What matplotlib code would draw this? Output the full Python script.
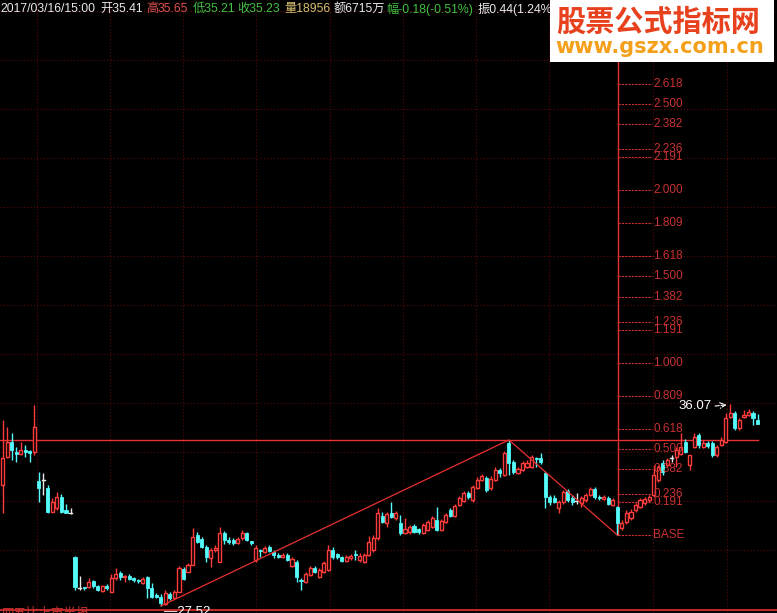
import matplotlib
matplotlib.use("Agg")
import matplotlib.pyplot as plt
from matplotlib.patches import Rectangle

# daily OHLC, oldest first
opens = [
    32.64, 33.83, 34.46, 34.04, 33.95, 34.12, 34.08, 34.04, 32.81, 32.85,
    32.52, 31.50, 31.67, 32.13, 31.58, 31.46, 29.59, 28.28, 28.33, 28.33,
    28.58, 28.37, 28.16, 28.37, 28.11, 28.71, 28.92, 28.75, 28.79, 28.71,
    28.62, 28.50, 28.75, 28.28, 27.99, 27.90, 27.61, 28.03, 27.86, 28.11,
    29.09, 28.96, 29.26, 30.53, 30.36, 30.02, 29.55, 29.89, 29.38, 30.61,
    30.31, 30.31, 30.19, 30.40, 30.61, 30.27, 29.47, 29.89, 29.81, 30.02,
    29.81, 29.68, 29.59, 29.68, 29.21, 29.38, 28.62, 28.54, 28.83, 29.13,
    28.75, 28.96, 29.04, 29.89, 29.72, 29.59, 29.43, 29.55, 29.72, 29.47,
    29.38, 29.68, 29.89, 30.40, 31.33, 31.03, 31.46, 31.25, 31.03, 30.61,
    30.65, 30.91, 30.78, 30.61, 30.74, 30.87, 31.16, 30.74, 31.08, 31.58,
    31.33, 31.80, 31.97, 32.30, 32.01, 32.52, 32.85, 32.94, 32.52, 32.85,
    33.28, 33.07, 34.42, 33.62, 33.15, 33.28, 33.40, 33.40, 33.78, 33.78,
    33.15, 32.13, 32.09, 31.67, 31.92, 32.39, 32.09, 31.97, 31.88, 32.01,
    32.22, 32.47, 32.13, 32.05, 32.09, 31.80, 31.71, 30.82, 31.08, 31.25,
    31.58, 31.71, 31.88, 32.01, 32.22, 32.85, 33.57, 33.49, 33.78, 33.83,
    33.95, 34.46, 33.49, 34.25, 34.76, 34.25, 34.42, 34.42, 33.91, 34.34,
    34.46, 35.52, 35.69, 35.06, 35.52, 35.60, 35.69, 35.41,
]
highs = [
    35.39, 35.10, 34.84, 34.25, 34.46, 34.34, 34.12, 36.03, 33.19, 33.15,
    32.64, 32.09, 32.35, 32.26, 31.84, 31.67, 29.64, 28.79, 28.33, 28.71,
    28.62, 28.41, 28.41, 28.45, 28.88, 29.13, 29.00, 28.83, 28.88, 28.75,
    28.66, 28.75, 28.79, 28.50, 28.07, 28.03, 28.20, 28.11, 28.20, 29.21,
    29.17, 29.34, 30.82, 30.65, 30.44, 30.10, 29.98, 30.10, 30.87, 30.70,
    30.44, 30.40, 30.44, 30.74, 30.65, 30.27, 30.10, 29.93, 30.06, 30.10,
    29.89, 29.76, 29.76, 29.76, 29.59, 29.47, 28.71, 28.96, 29.21, 29.21,
    29.13, 29.43, 30.10, 30.02, 29.76, 29.64, 29.68, 29.72, 29.89, 29.76,
    29.76, 30.48, 30.53, 31.67, 31.50, 31.50, 31.92, 31.54, 31.37, 31.25,
    30.95, 30.99, 30.82, 31.03, 31.16, 31.33, 31.71, 31.20, 31.46, 31.67,
    31.84, 32.18, 32.39, 32.39, 32.64, 32.98, 33.11, 33.02, 33.02, 33.40,
    33.36, 34.08, 34.55, 33.70, 33.40, 33.66, 33.70, 33.91, 33.83, 34.00,
    33.23, 32.22, 32.22, 32.01, 32.43, 32.47, 32.22, 32.30, 32.18, 32.30,
    32.56, 32.56, 32.22, 32.22, 32.18, 32.09, 31.75, 31.16, 31.58, 31.63,
    31.88, 32.09, 32.13, 32.22, 33.49, 33.49, 33.70, 33.78, 33.91, 34.25,
    34.84, 34.59, 33.91, 34.84, 34.84, 34.55, 34.50, 34.50, 34.34, 34.67,
    35.69, 36.07, 35.77, 35.48, 35.82, 35.86, 35.77, 35.65,
]
lows = [
    31.46, 33.78, 33.70, 33.62, 33.91, 33.83, 33.62, 33.91, 31.92, 32.22,
    31.46, 31.50, 31.58, 31.46, 31.44, 31.42, 28.20, 28.20, 28.20, 28.28,
    28.28, 28.16, 28.11, 28.20, 28.11, 28.62, 28.62, 28.54, 28.62, 28.54,
    28.50, 28.45, 27.86, 27.86, 27.86, 27.52, 27.57, 27.77, 27.86, 28.11,
    28.62, 28.96, 29.26, 30.19, 29.98, 29.38, 29.17, 29.81, 29.38, 30.15,
    30.15, 30.10, 30.15, 30.31, 30.27, 30.10, 29.38, 29.59, 29.76, 29.81,
    29.55, 29.55, 29.55, 29.43, 29.17, 28.54, 28.20, 28.50, 28.79, 28.92,
    28.71, 28.92, 29.00, 29.51, 29.51, 29.38, 29.38, 29.47, 29.47, 29.38,
    29.34, 29.64, 29.81, 30.31, 31.03, 30.87, 31.25, 31.16, 30.53, 30.57,
    30.57, 30.61, 30.57, 30.57, 30.70, 30.82, 30.70, 30.70, 31.03, 31.29,
    31.29, 31.75, 31.92, 32.05, 31.92, 32.47, 32.81, 32.35, 32.43, 32.81,
    32.98, 33.02, 33.07, 33.11, 33.11, 33.23, 33.36, 33.36, 33.40, 33.53,
    31.67, 31.80, 31.88, 31.46, 31.84, 31.92, 31.80, 31.84, 31.71, 31.92,
    32.18, 32.05, 32.01, 32.01, 31.80, 31.75, 30.52, 30.74, 30.99, 31.16,
    31.50, 31.67, 31.80, 31.92, 32.13, 32.77, 33.07, 33.40, 33.62, 33.40,
    33.91, 34.00, 33.28, 34.21, 34.21, 34.21, 34.21, 33.83, 33.83, 34.29,
    34.42, 35.48, 34.97, 34.97, 35.48, 35.56, 35.18, 35.21,
]
closes = [
    33.78, 34.46, 34.12, 33.95, 34.12, 34.04, 34.00, 35.10, 32.52, 32.85,
    31.50, 31.92, 32.13, 31.50, 31.46, 31.46, 28.33, 28.28, 28.28, 28.54,
    28.37, 28.20, 28.37, 28.28, 28.71, 28.88, 28.75, 28.79, 28.66, 28.62,
    28.58, 28.66, 28.28, 27.90, 27.90, 27.65, 28.07, 27.86, 28.11, 29.13,
    28.66, 29.26, 30.44, 30.23, 30.02, 29.59, 29.89, 29.98, 30.61, 30.31,
    30.23, 30.19, 30.36, 30.61, 30.31, 30.19, 29.98, 29.85, 29.98, 29.85,
    29.68, 29.59, 29.68, 29.47, 29.51, 28.75, 28.58, 28.88, 29.13, 28.96,
    29.04, 29.34, 29.89, 29.59, 29.59, 29.43, 29.59, 29.64, 29.68, 29.64,
    29.68, 30.23, 30.40, 31.46, 31.08, 31.42, 31.29, 31.46, 30.61, 30.78,
    30.87, 30.65, 30.65, 30.95, 31.08, 31.25, 30.74, 31.12, 31.37, 31.33,
    31.75, 32.09, 32.30, 32.13, 32.56, 32.85, 33.02, 32.43, 32.90, 33.28,
    33.15, 34.00, 33.57, 33.19, 33.32, 33.57, 33.57, 33.83, 33.74, 33.62,
    32.13, 31.92, 31.92, 31.92, 32.35, 32.01, 31.92, 31.97, 32.09, 32.22,
    32.47, 32.13, 32.09, 32.13, 31.84, 32.01, 31.03, 31.03, 31.46, 31.50,
    31.80, 32.01, 32.05, 32.13, 33.07, 33.40, 33.19, 33.70, 33.78, 34.12,
    34.25, 34.04, 33.91, 34.67, 34.34, 34.42, 34.29, 33.91, 34.25, 34.55,
    35.48, 35.69, 35.06, 35.39, 35.60, 35.73, 35.48, 35.23,
]

# swing points of the zigzag (bar index, price)
swing_idx = [35, 112, 136]
swing_px = [27.52, 34.55, 30.52]

# Fibonacci projection levels from the last swing low
fib_ratios = [0.0, 0.191, 0.236, 0.382, 0.5, 0.618, 0.809, 1.0, 1.191, 1.236,
              1.382, 1.5, 1.618, 1.809, 2.0, 2.191, 2.236, 2.382, 2.5, 2.618]
fib_labels = ["BASE", "0.191", "0.236", "0.382", "0.500", "0.618", "0.809",
              "1.000", "1.191", "1.236", "1.382", "1.500", "1.618", "1.809",
              "2.000", "2.191", "2.236", "2.382", "2.500", "2.618"]
fib_base = 30.52
fib_unit = 7.30

# header quote line
hdr_parts = [("2017/03/16/15:00", "#e8e8e8"), ("开35.41", "#e8e8e8"),
             ("高", "#e05050"), ("35.65", "#e05050"), ("低35.21", "#40c040"),
             ("收35.23", "#40c040"), ("量18956", "#d8c070"), ("额6715万", "#e8e8e8"),
             ("幅-0.18(-0.51%)", "#40c040"), ("振0.44(1.24%)", "#e8e8e8")]
hdr_x = [0, 100, 146, 158, 193, 237, 284, 334, 386, 478]

# indicator caption under the price pane
caption = "四五比上市半报"

W, H = 777, 613
DPI = 100
Y_TOP, Y_BOT = 53.167, 27.225
X0, DX = 2.7, 4.52

RED = "#ff3c3c"
CYAN = "#54fcfc"
GRID = "#5a0808"
FIBC = "#c83232"

fig = plt.figure(figsize=(W / DPI, H / DPI), dpi=DPI, facecolor="black")
ax = fig.add_axes([0, 0, 1, 1])
ax.set_facecolor("black")
ax.set_xlim(-X0 / DX, (W - X0) / DX)
ax.set_ylim(Y_BOT, Y_TOP)
ax.axis("off")

# dotted background grid
for gy in [52.70, 50.63, 48.55, 46.48, 44.41, 42.33, 40.26, 38.19, 36.11, 34.04, 31.97, 29.89]:
    ax.axhline(gy, color=GRID, lw=0.8, ls=(0, (1, 2)), zorder=0)
for gx_px in [37, 110, 183, 256, 330, 403, 476, 549, 653, 727]:
    ax.axvline((gx_px - X0) / DX, color=GRID, lw=0.8, ls=(0, (1, 2)), zorder=0)

# candles
bw = 0.68
for i, (o, h, l, c) in enumerate(zip(opens, highs, lows, closes)):
    top, bot = max(o, c), min(o, c)
    if c > o:
        col = RED
    elif c < o:
        col = CYAN
    else:
        col = "#e8e8e8"
    ax.plot([i, i], [top, h], color=col, lw=1.0, zorder=3, solid_capstyle="butt")
    ax.plot([i, i], [l, bot], color=col, lw=1.0, zorder=3, solid_capstyle="butt")
    if top - bot < 0.03:
        ax.plot([i - bw / 2, i + bw / 2], [o, o], color=col, lw=1.0, zorder=4)
    elif c > o:
        ax.add_patch(Rectangle((i - bw / 2, bot), bw, top - bot, facecolor="black",
                               edgecolor=col, lw=1.0, zorder=4))
    else:
        ax.add_patch(Rectangle((i - bw / 2, bot), bw, top - bot, facecolor=col,
                               edgecolor=col, lw=0.6, zorder=4))

# peak level line and bottom frame line
n = len(closes)
ax.plot([-1, n - 1], [swing_px[1], swing_px[1]], color="#e83030", lw=1.0, zorder=2)
ax.axhline(27.36, color="#e83030", lw=1.2, zorder=6)

# zigzag between swings
ax.plot(swing_idx, swing_px, color="#e83030", lw=0.9, zorder=5)

# Fibonacci projection ladder
fx = swing_idx[2] + 0.2
ax.plot([fx, fx], [fib_base, Y_TOP], color="#e83030", lw=1.0, zorder=2)
fx_end = fx + 34 / DX
for r, lab in zip(fib_ratios, fib_labels):
    lvl = fib_base + r * fib_unit
    ax.plot([fx, fx_end], [lvl, lvl], color=FIBC, lw=0.8, ls=(0, (2, 1)), zorder=2)
    ax.text(fx_end + 0.2, lvl, lab, color=FIBC, fontsize=8.5, va="center", ha="left",
            family="Liberation Sans", zorder=6)

# high / low price tags
hi_i = max(range(n), key=lambda k: highs[k])
lo_i = min(range(n), key=lambda k: lows[k])
ax.annotate("", xy=(hi_i - 0.2, highs[hi_i] - 0.02), xytext=(hi_i - 4.0, highs[hi_i] - 0.1),
            arrowprops=dict(arrowstyle="->", color="white", lw=0.8, ls="--"), zorder=7)
ax.text(hi_i - 4.2, highs[hi_i] - 0.1, f"{highs[hi_i]:.2f}", color="white", fontsize=9.5,
        ha="right", va="center", family="Liberation Sans", zorder=7)
ax.text(lo_i + 0.6, lows[lo_i] - 0.24, f"\u2014{lows[lo_i]:.2f}", color="white", fontsize=9.5,
        ha="left", va="center", family="Liberation Sans", zorder=7)

# caption, mostly below the lower edge
fig.text(2 / W, -7 / H, caption, color="#c03030", fontsize=9, va="bottom", ha="left",
         family="Noto Sans CJK SC")

# header quote line
for (txt, col), xp in zip(hdr_parts, hdr_x):
    fig.text(xp / W, 1 - 9 / H, txt, color=col, fontsize=8.8, va="center", ha="left",
             family=["Liberation Sans", "Noto Sans CJK SC"])

# site badge
fig.patches.append(Rectangle((550 / W, 1 - 62 / H), 224 / W, 62 / H, transform=fig.transFigure,
                             facecolor="white", edgecolor="none", zorder=10))
fig.text(658 / W, 1 - 22 / H, "股票公式指标网", color="#e8411d", fontsize=21, weight="bold",
         ha="center", va="center", family="Noto Sans CJK SC", zorder=11)
fig.text(660 / W, 1 - 47 / H, "www.gszx.com.cn", color="#f5a01a", fontsize=15, weight="bold",
         ha="center", va="center", family="DejaVu Sans", zorder=11)

fig.savefig("out.png", dpi=DPI, facecolor="black")
